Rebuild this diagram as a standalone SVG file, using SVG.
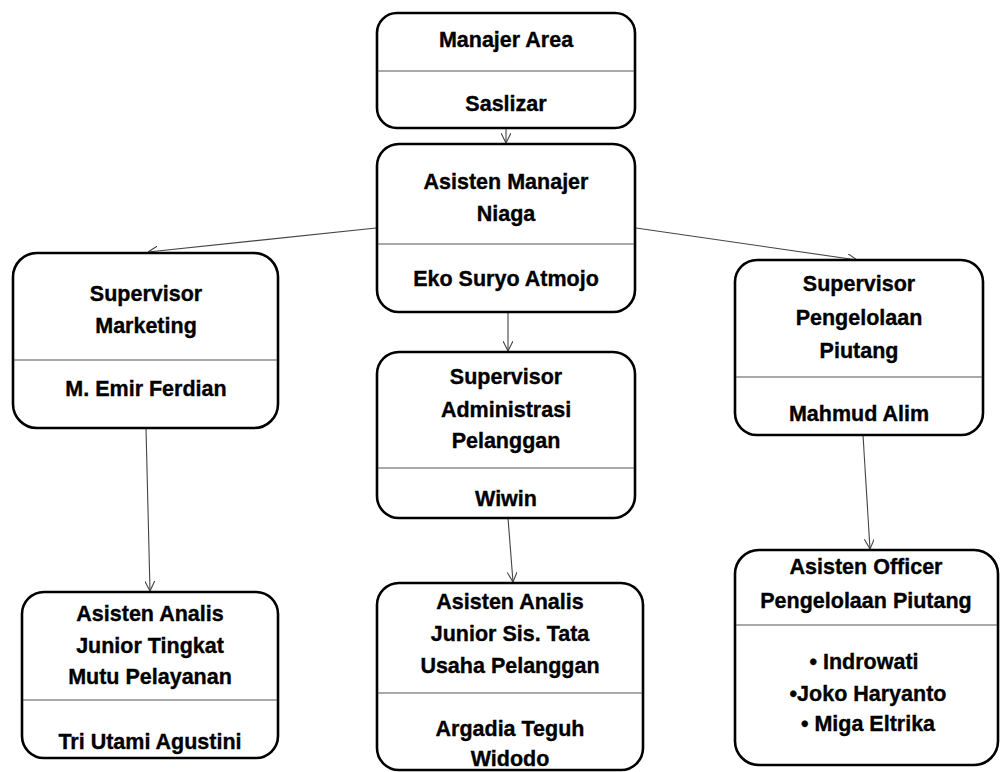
<svg xmlns="http://www.w3.org/2000/svg" width="1000" height="772" viewBox="0 0 1000 772">
<style>
.box{fill:#fff;stroke:#000;stroke-width:2.6}
.div{stroke:#555;stroke-width:1.2}
.t{font-family:"Liberation Sans",Arial,sans-serif;font-weight:bold;font-size:21.5px;fill:#000;stroke:#000;stroke-width:0.35;text-anchor:middle}
.c{stroke:#444;stroke-width:1.1;fill:none;marker-end:url(#ah)}
</style>
<defs>
<marker id="ah" viewBox="0 0 10 10" refX="10" refY="5" markerWidth="10" markerHeight="10" markerUnits="userSpaceOnUse" orient="auto">
<path d="M0,0 L10,5 L0,10" fill="none" stroke="#444" stroke-width="1.1"/>
</marker>
</defs>
<rect width="1000" height="772" fill="#fff"/>
<g id="connectors">
<line class="c" x1="506" y1="128" x2="506" y2="143"/>
<line class="c" x1="376" y1="228" x2="148" y2="252"/>
<line class="c" x1="636" y1="228" x2="857" y2="260"/>
<line class="c" x1="508" y1="312" x2="508" y2="351"/>
<line class="c" x1="146" y1="428" x2="150" y2="591"/>
<line class="c" x1="508" y1="518" x2="513" y2="582"/>
<line class="c" x1="863" y1="435" x2="870" y2="549"/>
</g>
<g id="manajer-area">
<rect class="box" x="377" y="13" width="258" height="115" rx="20"/>
<line class="div" x1="378" y1="71" x2="634" y2="71"/>
<text class="t" x="506" y="47">Manajer Area</text>
<text class="t" x="506" y="111">Saslizar</text>
</g>
<g id="asisten-manajer-niaga">
<rect class="box" x="377" y="144" width="258" height="168" rx="22"/>
<line class="div" x1="378" y1="244" x2="634" y2="244"/>
<text class="t" x="506" y="189">Asisten Manajer</text>
<text class="t" x="506" y="221">Niaga</text>
<text class="t" x="506" y="286">Eko Suryo Atmojo</text>
</g>
<g id="supervisor-marketing">
<rect class="box" x="13" y="253" width="265" height="175" rx="24"/>
<line class="div" x1="14" y1="360" x2="277" y2="360"/>
<text class="t" x="146" y="301">Supervisor</text>
<text class="t" x="146" y="333">Marketing</text>
<text class="t" x="146" y="396">M. Emir Ferdian</text>
</g>
<g id="supervisor-pengelolaan-piutang">
<rect class="box" x="735" y="260" width="248" height="175" rx="22"/>
<line class="div" x1="736" y1="377" x2="982" y2="377"/>
<text class="t" x="859" y="291">Supervisor</text>
<text class="t" x="859" y="325">Pengelolaan</text>
<text class="t" x="859" y="358">Piutang</text>
<text class="t" x="859" y="421">Mahmud Alim</text>
</g>
<g id="supervisor-administrasi-pelanggan">
<rect class="box" x="377" y="352" width="258" height="166" rx="22"/>
<line class="div" x1="378" y1="468" x2="634" y2="468"/>
<text class="t" x="506" y="384">Supervisor</text>
<text class="t" x="506" y="417">Administrasi</text>
<text class="t" x="506" y="448">Pelanggan</text>
<text class="t" x="506" y="506">Wiwin</text>
</g>
<g id="asisten-analis-mutu">
<rect class="box" x="22" y="592" width="256" height="166" rx="22"/>
<line class="div" x1="23" y1="700" x2="277" y2="700"/>
<text class="t" x="150" y="621">Asisten Analis</text>
<text class="t" x="150" y="653">Junior  Tingkat</text>
<text class="t" x="150" y="684">Mutu Pelayanan</text>
<text class="t" x="150" y="749">Tri Utami Agustini</text>
</g>
<g id="asisten-analis-tata-usaha">
<rect class="box" x="377" y="583" width="266" height="187" rx="22"/>
<line class="div" x1="378" y1="693" x2="642" y2="693"/>
<text class="t" x="510" y="609">Asisten Analis</text>
<text class="t" x="510" y="641">Junior Sis. Tata</text>
<text class="t" x="510" y="673">Usaha Pelanggan</text>
<text class="t" x="510" y="736">Argadia Teguh</text>
<text class="t" x="510" y="766">Widodo</text>
</g>
<g id="asisten-officer">
<rect class="box" x="735" y="550" width="263" height="215" rx="24"/>
<line class="div" x1="736" y1="625" x2="997" y2="625"/>
<text class="t" x="866" y="574">Asisten Officer</text>
<text class="t" x="866" y="608">Pengelolaan Piutang</text>
<text class="t" x="864" y="669">• Indrowati</text>
<text class="t" x="868" y="701">•Joko Haryanto</text>
<text class="t" x="868" y="731">• Miga Eltrika</text>
</g>
</svg>
